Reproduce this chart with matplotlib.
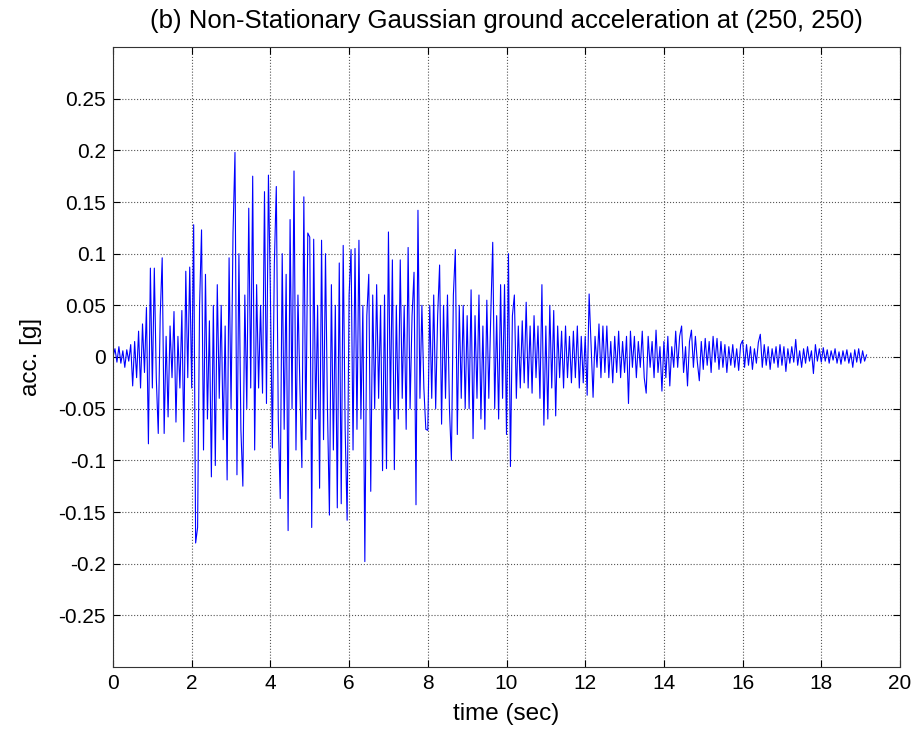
import numpy as np
import matplotlib.pyplot as plt

# acceleration samples, dt = 0.05 s, one row per second
dt = 0.05
acc_0 = [0.0, 0.008, -0.005, 0.01, -0.006, 0.006, -0.01, 0.007, -0.004, 0.012,
         -0.028, 0.015, -0.02, 0.025, -0.03, 0.032, -0.015, 0.048, -0.084, 0.086]
acc_1 = [-0.03, 0.086, -0.02, -0.074, 0.04, 0.096, -0.074, 0.02, -0.058, 0.03,
         -0.02, 0.044, -0.063, 0.02, -0.03, 0.045, -0.082, 0.083, -0.02, 0.087]
acc_2 = [-0.03, 0.128, -0.18, -0.165, 0.05, 0.123, -0.09, 0.08, -0.06, 0.035,
         -0.116, 0.05, -0.105, 0.07, -0.04, 0.05, -0.08, 0.03, -0.119, 0.096]
acc_3 = [-0.05, 0.12, 0.198, -0.114, 0.1, -0.07, -0.125, 0.06, -0.05, 0.144,
         -0.03, 0.175, -0.09, 0.07, -0.03, 0.05, -0.035, 0.16, -0.045, 0.176]
acc_4 = [0.06, -0.088, 0.09, 0.165, -0.06, -0.137, 0.1, -0.07, 0.08, -0.168,
         0.133, -0.05, 0.18, -0.09, 0.06, -0.03, -0.107, 0.155, -0.08, 0.12]
acc_5 = [0.116, -0.165, 0.114, -0.06, 0.05, -0.127, 0.113, -0.08, 0.1, -0.05,
         -0.153, 0.07, -0.09, 0.05, -0.146, 0.091, -0.142, 0.108, -0.07, -0.158]
acc_6 = [0.06, 0.104, -0.09, 0.105, -0.07, 0.113, -0.06, 0.05, -0.198, 0.04,
         0.08, -0.13, 0.06, -0.05, 0.07, -0.04, 0.05, -0.11, 0.06, -0.108]
acc_7 = [0.121, -0.05, 0.094, -0.109, 0.05, -0.06, 0.094, -0.04, 0.05, -0.07,
         0.106, -0.05, 0.04, 0.082, -0.143, 0.142, -0.04, 0.05, -0.03, -0.07]
acc_8 = [-0.071, 0.05, -0.04, 0.06, -0.05, 0.04, 0.089, -0.065, 0.05, -0.04,
         0.06, -0.05, -0.1, 0.06, 0.104, -0.075, 0.05, -0.04, 0.05, -0.05]
acc_9 = [0.04, -0.05, 0.065, -0.079, 0.04, -0.04, 0.06, -0.06, 0.03, -0.07,
         0.055, -0.04, 0.04, 0.111, -0.05, 0.04, -0.06, 0.07, -0.04, 0.07]
acc_10 = [-0.075, 0.1, -0.106, 0.04, 0.06, -0.04, 0.03, -0.03, 0.035, -0.025,
          0.053, -0.03, 0.03, -0.035, 0.04, -0.02, 0.03, -0.04, 0.07, -0.066]
acc_11 = [0.03, -0.06, 0.05, -0.03, 0.045, -0.057, 0.03, -0.02, 0.025, -0.03,
          0.03, -0.02, 0.02, -0.025, 0.025, -0.02, 0.03, -0.03, 0.02, -0.025]
acc_12 = [0.02, -0.037, 0.061, 0.01, -0.039, 0.02, -0.01, 0.032, -0.02, 0.03,
          -0.015, 0.03, -0.02, 0.015, -0.025, 0.02, -0.015, 0.025, -0.02, 0.015]
acc_13 = [-0.015, 0.02, -0.045, 0.025, -0.01, 0.02, -0.02, 0.015, -0.01, 0.025,
          -0.02, -0.035, 0.02, -0.01, 0.015, -0.02, 0.026, -0.015, 0.01, -0.033]
acc_14 = [0.015, -0.02, 0.02, -0.028, 0.01, -0.01, 0.025, -0.01, 0.02, 0.03,
          -0.015, 0.01, -0.028, 0.015, 0.026, -0.01, 0.02, -0.005, -0.023, 0.015]
acc_15 = [-0.012, 0.018, -0.008, 0.015, -0.015, 0.02, -0.005, 0.018, -0.012, 0.015,
          -0.01, 0.012, -0.015, 0.01, -0.008, 0.012, -0.01, 0.008, -0.013, 0.012]
acc_16 = [0.016, -0.01, 0.012, -0.008, 0.01, -0.012, 0.008, -0.006, 0.014, 0.022,
          -0.01, 0.012, -0.008, 0.01, -0.012, 0.008, -0.006, 0.01, -0.01, 0.012]
acc_17 = [-0.008, 0.01, -0.014, 0.008, -0.006, 0.01, -0.005, 0.017, -0.008, 0.006,
          -0.01, 0.008, -0.006, 0.01, -0.004, 0.006, -0.016, 0.012, -0.004, 0.008]
acc_18 = [-0.005, 0.009, -0.004, 0.007, -0.006, 0.006, -0.003, 0.008, -0.006, 0.005,
          -0.007, 0.006, -0.004, 0.007, -0.006, 0.004, -0.01, 0.007, -0.005, 0.008]
acc_19 = [-0.006, 0.006, -0.004, 0.002]

acc = np.array(acc_0 + acc_1 + acc_2 + acc_3 + acc_4 + acc_5 + acc_6 + acc_7 +
               acc_8 + acc_9 + acc_10 + acc_11 + acc_12 + acc_13 + acc_14 +
               acc_15 + acc_16 + acc_17 + acc_18 + acc_19)
t = np.arange(len(acc)) * dt

xticks = np.arange(0, 21, 2)
yticks = [-0.25, -0.2, -0.15, -0.1, -0.05, 0, 0.05, 0.1, 0.15, 0.2, 0.25]
ylabels = ['-0.25', '-0.2', '-0.15', '-0.1', '-0.05', '0', '0.05', '0.1', '0.15', '0.2', '0.25']

plt.rcParams['font.family'] = ['Liberation Sans', 'DejaVu Sans']

fig = plt.figure(figsize=(9.16, 7.36), dpi=100)
ax = fig.add_axes([113/916, 1 - 667/736, 787/916, 620/736])
ax.plot(t, acc, color='#0000ff', linewidth=0.8)

ax.set_xlim(0, 20)
ax.set_ylim(-0.3, 0.3)
ax.set_xticks(xticks)
ax.set_yticks(yticks)
ax.set_yticklabels(ylabels)
ax.tick_params(direction='in', top=True, right=True, labelsize=15, length=5, width=0.8, pad=5)
ax.grid(True, linestyle=':', color='#555555', linewidth=0.8)
for s in ax.spines.values():
    s.set_linewidth(0.8)
    s.set_color('#333333')

ax.set_title('(b) Non-Stationary Gaussian ground acceleration at (250, 250)', fontsize=18.5, pad=14)
ax.set_xlabel('time (sec)', fontsize=17.5, labelpad=7)
ax.set_ylabel('acc. [g]', fontsize=17.5, labelpad=12)

fig.savefig('out.png', dpi=100)
